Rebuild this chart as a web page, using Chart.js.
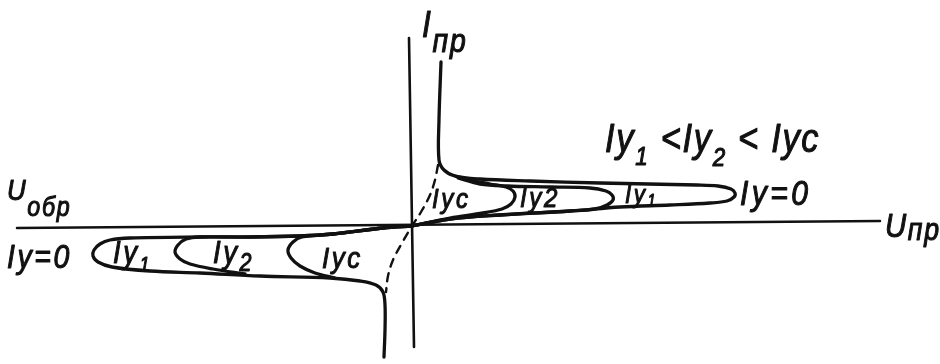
<!DOCTYPE html>
<html>
<head>
<meta charset="utf-8">
<script src="https://cdn.jsdelivr.net/npm/chart.js@4.4.1/dist/chart.umd.min.js"></script>
<style>
  html, body { margin: 0; padding: 0; background: #fff; }
  #chart { display: block; }
</style>
</head>
<body>
<canvas id="chart" width="940" height="364"></canvas>
<script>
// all points are [U, I] in drawing units, origin where the two axes cross
const axisU = [[-395, -2], [468, 5]];
const axisI = [[-3, 188], [2, -121]];

// forward branch (U > 0), one curve per control current
const fwdIy0 = [[0, 0], [38, 7], [88, 11], [158, 15], [208, 19], [258, 21], [298, 23], [315, 25], [322, 29], [323, 33],
  [319, 37], [306, 40], [285, 41], [188, 43], [118, 45], [68, 47], [43, 50], [32, 56], [27, 66], [27, 106], [29, 164]];
const fwdIy1 = [[0, 0], [38, 7], [88, 11], [158, 15], [183, 17], [195, 21], [201, 26], [200, 31], [194, 35], [178, 38],
  [138, 39], [95, 40], [68, 42], [46, 48]];
const fwdIy2 = [[0, 0], [38, 8], [71, 13], [90, 17], [99, 22], [103, 29], [101, 35], [94, 39], [78, 42], [58, 46], [43, 50]];

// dashed curve through the origin (Iyc)
const dashIyc = [[26, 61], [23, 46], [18, 31], [9, 14], [0, 0], [-10, -17], [-19, -34], [-24, -50], [-26, -66]];

// reverse branch (U < 0)
const revIy0 = [[0, 0], [-29, -2], [-79, -8], [-112, -10], [-162, -11], [-212, -11], [-282, -12], [-302, -14], [-312, -18],
  [-318, -24], [-319, -30], [-314, -36], [-300, -41], [-262, -45], [-212, -47], [-152, -50], [-82, -52], [-52, -55],
  [-36, -59], [-29, -66], [-27, -79], [-27, -104], [-28, -131]];
const revIy1 = [[0, 0], [-29, -2], [-79, -8], [-112, -10], [-162, -11], [-212, -11], [-226, -13], [-234, -19], [-237, -26],
  [-232, -33], [-222, -38], [-199, -43], [-167, -48]];
const revIy2 = [[0, 0], [-29, -2], [-79, -8], [-110, -11], [-119, -16], [-124, -24], [-121, -32], [-112, -40], [-97, -47], [-77, -52]];

// labels: position of the baseline start, letter gap, then runs of [text, size, drop]
const labels = [
  { at: [10, 189], gap: 2, runs: [['I', 37, 0], ['пр', 33, 15]] },
  { at: [-405, 26], gap: 2, runs: [['U', 30, 0], ['обр', 27, 16]] },
  { at: [473, -11], gap: 2, runs: [['U', 34, 0], ['пр', 31, 3]] },
  { at: [-405, -42], gap: 3, runs: [['Iу=0', 33, 0]] },
  { at: [-299, -37], gap: 3, runs: [['Iу', 32, 0], ['1', 21, 8]] },
  { at: [-199, -37], gap: 3, runs: [['Iу', 32, 0], ['2', 25, 8]] },
  { at: [-90, -42], gap: 3, runs: [['Iус', 30, 0]] },
  { at: [20, 18], gap: 3, runs: [['Iус', 28, 0]] },
  { at: [108, 19], gap: 3, runs: [['Iу2', 28, 0]] },
  { at: [213, 23], gap: 3, runs: [['Iу', 26, 0], ['1', 17, 3]] },
  { at: [328, 21], gap: 4, runs: [['Iу=0', 35, 0]] },
  { at: [193, 74], gap: 2, runs: [['Iу', 40, 0], ['1', 26, 13], [' <Iу', 40, 0], ['2', 26, 14], [' < Iус', 40, 0]] }
];

const toPts = arr => arr.map(p => ({ x: p[0], y: p[1] }));

function line(data, width, dash) {
  return {
    data: toPts(data),
    showLine: true,
    borderColor: '#111',
    borderWidth: width,
    borderDash: dash || [],
    borderCapStyle: 'round',
    borderJoinStyle: 'round',
    pointRadius: 0,
    tension: 0.35,
    fill: false,
    clip: false
  };
}

const labelPlugin = {
  id: 'labelPlugin',
  afterDatasetsDraw(chart) {
    const ctx = chart.ctx;
    const sx = chart.scales.x, sy = chart.scales.y;
    ctx.save();
    ctx.fillStyle = '#111';
    ctx.strokeStyle = '#111';
    ctx.lineWidth = 1.1;
    ctx.lineJoin = 'round';
    ctx.textBaseline = 'alphabetic';
    labels.forEach(l => {
      ctx.save();
      ctx.translate(sx.getPixelForValue(l.at[0]), sy.getPixelForValue(l.at[1]));
      ctx.scale(0.86, 1);
      ctx.letterSpacing = l.gap + 'px';
      let cx = 0;
      l.runs.forEach(r => {
        ctx.font = `italic ${r[1]}px "Liberation Sans", "DejaVu Sans", sans-serif`;
        ctx.fillText(r[0], cx, r[2]);
        ctx.strokeText(r[0], cx, r[2]);
        cx += ctx.measureText(r[0]).width;
      });
      ctx.restore();
    });
    ctx.restore();
  }
};

new Chart(document.getElementById('chart'), {
  type: 'scatter',
  data: {
    datasets: [
      line(axisU, 2.6),
      line(axisI, 2.6),
      line(fwdIy0, 3.3),
      line(fwdIy1, 3.3),
      line(fwdIy2, 3.3),
      line(revIy0, 3.3),
      line(revIy1, 3.3),
      line(revIy2, 3.3),
      line(dashIyc, 2.4, [8, 7])
    ]
  },
  options: {
    responsive: false,
    animation: false,
    layout: { padding: 0 },
    plugins: { legend: { display: false }, tooltip: { enabled: false } },
    scales: {
      x: { type: 'linear', min: -412, max: 528, display: false },
      y: { type: 'linear', min: -138, max: 226, display: false }
    }
  },
  plugins: [labelPlugin]
});
</script>
</body>
</html>
